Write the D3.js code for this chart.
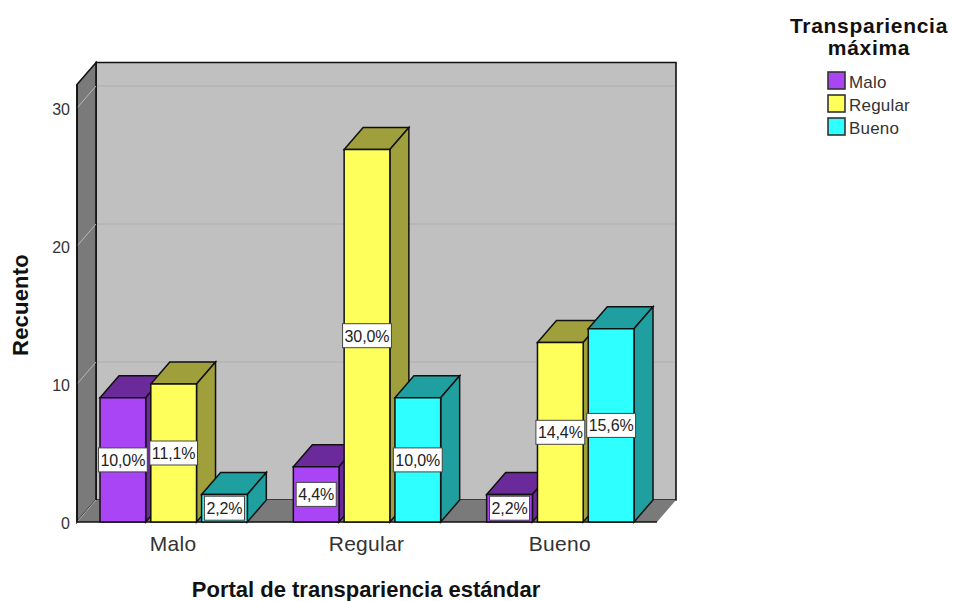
<!DOCTYPE html>
<html>
<head>
<meta charset="utf-8">
<script src="https://cdn.jsdelivr.net/npm/d3@7"></script>
<style>
html, body { margin: 0; padding: 0; background: #fff; }
svg { display: block; }
text { font-family: "Liberation Sans", Arial, sans-serif; }
</style>
</head>
<body>
<div id="chart"></div>
<script>
var width = 953;
var height = 601;

var categories = ["Malo", "Regular", "Bueno"];
var series = ["Malo", "Regular", "Bueno"];
var counts = [
  [9, 10, 2],
  [4, 27, 9],
  [2, 13, 14]
];
var percents = [
  ["10,0%", "11,1%", "2,2%"],
  ["4,4%", "30,0%", "10,0%"],
  ["2,2%", "14,4%", "15,6%"]
];
var yTicks = [0, 10, 20, 30];
var yMax = 31.7;

var frontColors = ["#a945f5", "#ffff5c", "#2effff"];
var topColors = ["#6a2a99", "#9f9f3c", "#1f9f9f"];

// offset of the back wall against the front plane
var depthX = 19;
var depthY = -22;

var svg = d3.select("#chart").append("svg")
  .attr("width", width)
  .attr("height", height);

var x = d3.scaleBand()
  .domain(categories)
  .range([77, 657]);

var xInner = d3.scaleBand()
  .domain(series)
  .range([23, x.bandwidth() - 23])
  .paddingInner(0.1);

var y = d3.scaleLinear()
  .domain([0, 30])
  .range([522, 108]);

var line = d3.line();

function poly(points, fill) {
  return svg.append("path")
    .attr("d", line(points) + "Z")
    .attr("fill", fill);
}

var x0 = x.range()[0], x1 = x.range()[1];
var yBase = y(0), yTop = y(yMax);

// walls and floor
poly([[x0 + depthX, yTop + depthY], [x1 + depthX, yTop + depthY], [x1 + depthX, yBase + depthY], [x0 + depthX, yBase + depthY]], "#c0c0c0")
  .attr("stroke", "#111").attr("stroke-width", 1.6);
poly([[x0, yTop], [x0 + depthX, yTop + depthY], [x0 + depthX, yBase + depthY], [x0, yBase]], "#7a7a7a")
  .attr("stroke", "#111").attr("stroke-width", 1.6);
poly([[x0, yBase], [x0 + depthX, yBase + depthY], [x1 + depthX, yBase + depthY], [x1, yBase]], "#7a7a7a");

// grid lines
yTicks.forEach(function(t) {
  if (t > 0) {
    svg.append("line")
      .attr("x1", x0 + depthX + 1).attr("x2", x1 + depthX - 1)
      .attr("y1", y(t) + depthY).attr("y2", y(t) + depthY)
      .attr("stroke", "#b4b4b4").attr("stroke-width", 1.5);
  }
  svg.append("line")
    .attr("x1", x0).attr("x2", x0 + depthX)
    .attr("y1", y(t)).attr("y2", y(t) + depthY)
    .attr("stroke", "#b8b8b8").attr("stroke-width", 1);
});

// left and bottom edges of the front plane
svg.append("line")
  .attr("x1", x0).attr("x2", x0).attr("y1", yTop).attr("y2", yBase)
  .attr("stroke", "#111").attr("stroke-width", 1.6);
svg.append("line")
  .attr("x1", x0).attr("x2", x1).attr("y1", yBase).attr("y2", yBase)
  .attr("stroke", "#111").attr("stroke-width", 1.6);

// bars, left to right so each one overlaps the side of the previous one
categories.forEach(function(cat, i) {
  series.forEach(function(s, j) {
    var left = x(cat) + xInner(s);
    var right = left + xInner.bandwidth();
    var top = y(counts[i][j]);
    poly([[left, top], [left + depthX, top + depthY], [right + depthX, top + depthY], [right, top]], topColors[j])
      .attr("stroke", "#111").attr("stroke-width", 1.5);
    poly([[right, top], [right + depthX, top + depthY], [right + depthX, yBase + depthY], [right, yBase]], topColors[j])
      .attr("stroke", "#111").attr("stroke-width", 1.5);
    poly([[left, top], [right, top], [right, yBase], [left, yBase]], frontColors[j])
      .attr("stroke", "#111").attr("stroke-width", 1.5);
  });
});

// data labels
categories.forEach(function(cat, i) {
  series.forEach(function(s, j) {
    var cx = x(cat) + xInner(s) + xInner.bandwidth() / 2;
    var cy = y(counts[i][j] / 2);
    var label = svg.append("text")
      .attr("x", cx).attr("y", cy + 6)
      .attr("text-anchor", "middle")
      .attr("font-size", 16)
      .attr("letter-spacing", -0.1)
      .attr("fill", "#222")
      .text(percents[i][j]);
    var w = label.node().getComputedTextLength() + 4;
    svg.insert("rect", function() { return label.node(); })
      .attr("x", cx - w / 2).attr("y", cy - 12)
      .attr("width", w).attr("height", 24)
      .attr("fill", "#fff")
      .attr("stroke", "#444").attr("stroke-width", 1);
  });
});

// y tick labels
svg.selectAll(".ytick")
  .data(yTicks)
  .enter().append("text")
  .attr("class", "ytick")
  .attr("x", 70)
  .attr("y", function(d) { return y(d) + 6.5; })
  .attr("text-anchor", "end")
  .attr("font-size", 16)
  .attr("fill", "#333")
  .text(function(d) { return d; });

// category labels
svg.selectAll(".xtick")
  .data(categories)
  .enter().append("text")
  .attr("class", "xtick")
  .attr("x", function(d) { return x(d) + x.bandwidth() / 2 - 0.5; })
  .attr("y", 551)
  .attr("text-anchor", "middle")
  .attr("font-size", 21)
  .attr("letter-spacing", 0.3)
  .attr("fill", "#333")
  .text(function(d) { return d; });

// axis titles
svg.append("text")
  .attr("x", 366).attr("y", 597)
  .attr("text-anchor", "middle")
  .attr("font-size", 22)
  .attr("font-weight", "bold")
  .attr("fill", "#111")
  .text("Portal de transpariencia estándar");

svg.append("text")
  .attr("transform", "translate(28,305) rotate(-90)")
  .attr("text-anchor", "middle")
  .attr("font-size", 22)
  .attr("letter-spacing", 0.2)
  .attr("font-weight", "bold")
  .attr("fill", "#111")
  .text("Recuento");

// legend
svg.append("text")
  .attr("x", 869).attr("y", 33)
  .attr("text-anchor", "middle")
  .attr("font-size", 21)
  .attr("letter-spacing", 0.7)
  .attr("font-weight", "bold")
  .attr("fill", "#111")
  .text("Transpariencia");
svg.append("text")
  .attr("x", 869).attr("y", 55)
  .attr("text-anchor", "middle")
  .attr("font-size", 21)
  .attr("letter-spacing", 0.7)
  .attr("font-weight", "bold")
  .attr("fill", "#111")
  .text("máxima");

var legend = svg.selectAll(".legend")
  .data(series)
  .enter().append("g")
  .attr("class", "legend")
  .attr("transform", function(d, i) { return "translate(828," + (72 + i * 23) + ")"; });

legend.append("rect")
  .attr("width", 17).attr("height", 17)
  .attr("fill", function(d, i) { return frontColors[i]; })
  .attr("stroke", "#333").attr("stroke-width", 1.6);

legend.append("text")
  .attr("x", 21).attr("y", 16)
  .attr("font-size", 17)
  .attr("letter-spacing", 0.2)
  .attr("fill", "#333")
  .text(function(d) { return d; });
</script>
</body>
</html>
